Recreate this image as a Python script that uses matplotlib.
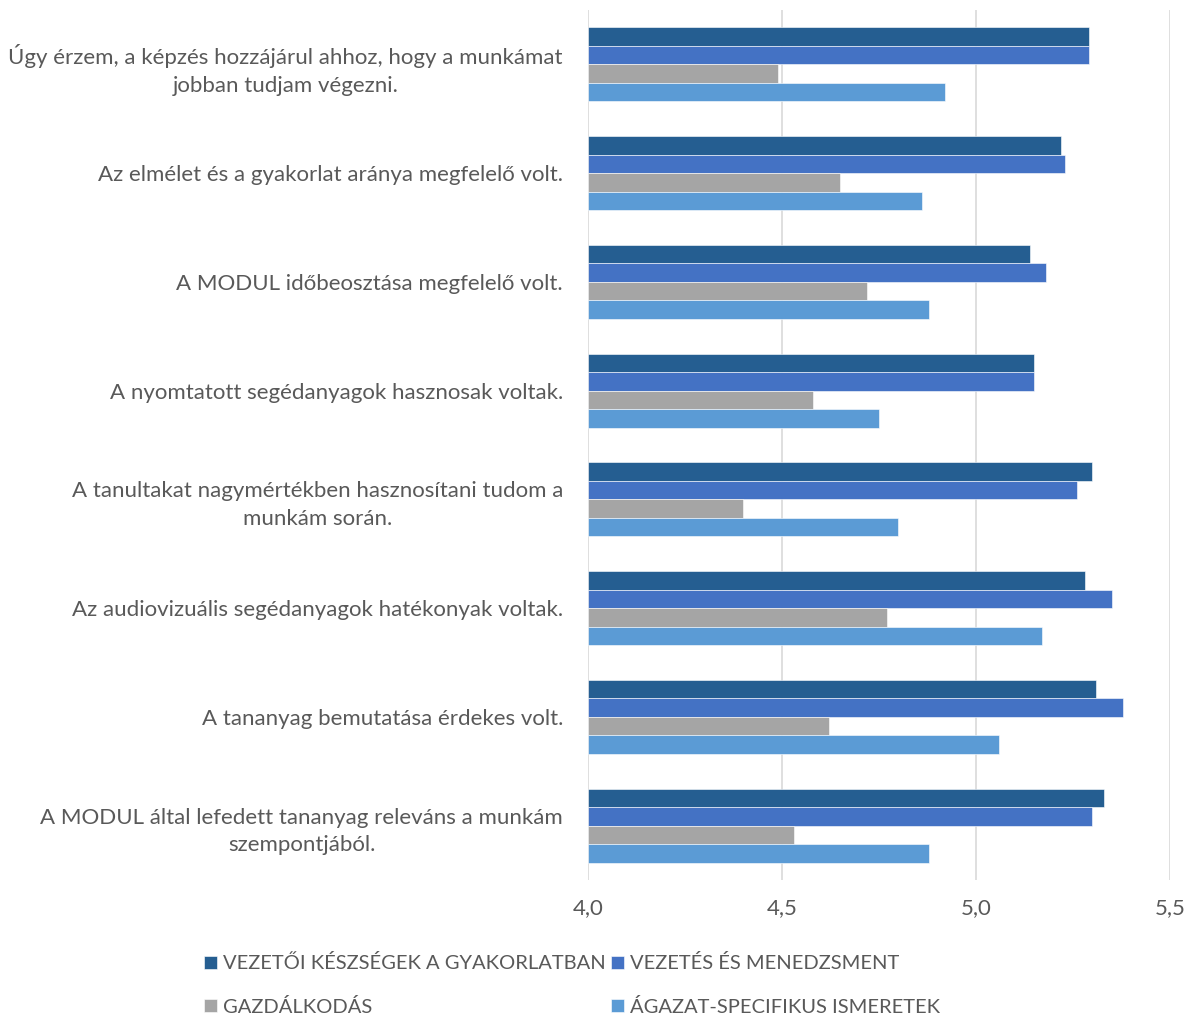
import matplotlib
matplotlib.use("Agg")
import matplotlib.pyplot as plt
import numpy as np

categories = [
    "Úgy érzem, a képzés hozzájárul ahhoz, hogy a munkámat\njobban tudjam végezni.",
    "Az elmélet és a gyakorlat aránya megfelelő volt.",
    "A MODUL időbeosztása megfelelő volt.",
    "A nyomtatott segédanyagok hasznosak voltak.",
    "A tanultakat nagymértékben hasznosítani tudom a\nmunkám során.",
    "Az audiovizuális segédanyagok hatékonyak voltak.",
    "A tananyag bemutatása érdekes volt.",
    "A MODUL által lefedett tananyag releváns a munkám\nszempontjából.",
]
series_names = [
    "VEZETŐI KÉSZSÉGEK A GYAKORLATBAN",
    "VEZETÉS ÉS MENEDZSMENT",
    "GAZDÁLKODÁS",
    "ÁGAZAT-SPECIFIKUS ISMERETEK",
]
vezetoi = [5.29, 5.22, 5.14, 5.15, 5.30, 5.28, 5.31, 5.33]
vezetes = [5.29, 5.23, 5.18, 5.15, 5.26, 5.35, 5.38, 5.30]
gazdalkodas = [4.49, 4.65, 4.72, 4.58, 4.40, 4.77, 4.62, 4.53]
agazat = [4.92, 4.86, 4.88, 4.75, 4.80, 5.17, 5.06, 4.88]
xticks = [4.0, 4.5, 5.0, 5.5]
xticklabels = ["4,0", "4,5", "5,0", "5,5"]

colors = ["#255E91", "#4472C4", "#A5A5A5", "#5B9BD5"]
text_color = "#595959"
font = "Lato"
fs = 16
legend_fs = 14.5

fig = plt.figure(figsize=(11.92, 10.19), dpi=100)
ax = fig.add_axes([588/1192, 1 - 880/1019, (1170 - 588)/1192, (880 - 10)/1019])

n = len(categories)
y = np.arange(n)
bh = 0.17
data = [vezetoi, vezetes, gazdalkodas, agazat]
for i, (vals, c, name) in enumerate(zip(data, colors, series_names)):
    offs = (i - 1.5) * bh
    ax.barh(y + offs, np.array(vals) - 4.0, left=4.0, height=bh, color=c,
            label=name, edgecolor="white", linewidth=0.4, zorder=3)

ax.set_xlim(4.0, 5.5)
ax.set_ylim(n - 0.5, -0.5)
ax.set_xticks(xticks)
ax.set_xticklabels(xticklabels, fontsize=fs, color=text_color, family=font)
ax.set_yticks(y)
ax.set_yticklabels(categories, fontsize=fs, color=text_color, family=font,
                   multialignment="center", linespacing=1.45)
ax.tick_params(axis="both", length=0)
ax.tick_params(axis="x", pad=13)
ax.tick_params(axis="y", pad=18)
ax.grid(axis="x", color="#D9D9D9", linewidth=1.2, zorder=0)
for s in ax.spines.values():
    s.set_visible(False)

handles, labels = ax.get_legend_handles_labels()
order = [0, 2, 1, 3]
leg = fig.legend([handles[i] for i in order], [labels[i] for i in order],
                 loc="center left", bbox_to_anchor=(204/1192, 1 - 985/1019),
                 ncol=2, frameon=False, handlelength=0.65, handleheight=0.65,
                 handletextpad=0.3, columnspacing=0.25, labelspacing=1.25,
                 borderpad=0, borderaxespad=0,
                 prop={"family": font, "size": legend_fs})
for t in leg.get_texts():
    t.set_color(text_color)

fig.savefig("out.png", dpi=100)
